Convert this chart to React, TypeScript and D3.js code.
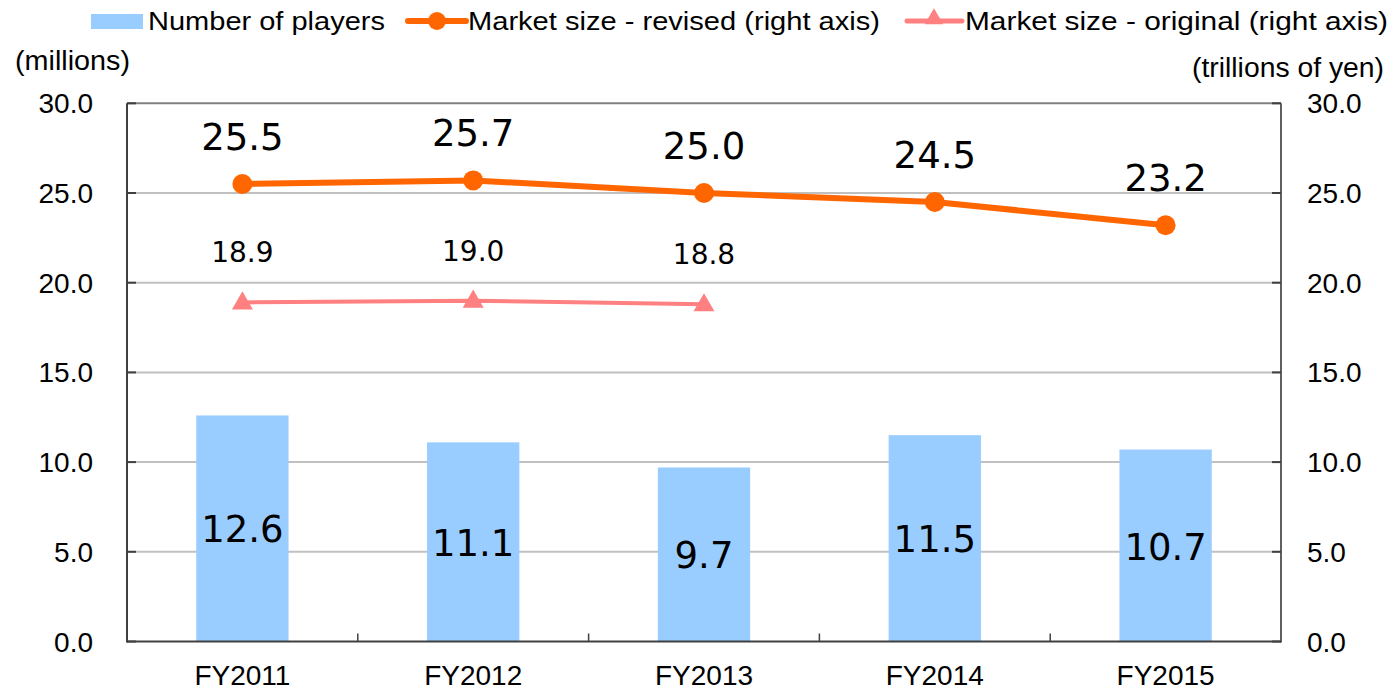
import React, { useEffect, useRef } from "react";
import * as d3 from "d3";

const categories = ["FY2011", "FY2012", "FY2013", "FY2014", "FY2015"];
const players = [12.6, 11.1, 9.7, 11.5, 10.7];
const revised = [25.5, 25.7, 25.0, 24.5, 23.2];
const original = [18.9, 19.0, 18.8];
const yTicks = [0, 5, 10, 15, 20, 25, 30];
const legendLabels = ["Number of players", "Market size - revised (right axis)", "Market size - original (right axis)"];

const W = 1394, H = 690;
const L = 127, R = 1281, T = 103.3, B = 641.5;

export default function App() {
  const ref = useRef<SVGSVGElement>(null);
  useEffect(() => {
    const svg = d3.select(ref.current);
    svg.selectAll("*").remove();
    const x = d3.scaleBand().domain(categories).range([L, R]).paddingInner(0.6).paddingOuter(0.3);
    const band = d3.scaleBand().domain(categories).range([L, R]);
    const yL = d3.scaleLinear().domain([0, 30]).range([B, T]);
    const yR = d3.scaleLinear().domain([0, 30]).range([B, T]);
    const cx = (c: string) => (band(c) as number) + band.bandwidth() / 2;
    const ARIAL = "'Liberation Sans', Arial, sans-serif";
    const VERD = "'DejaVu Sans', Verdana, sans-serif";

    // gridlines
    svg.append("g").selectAll("line").data(yTicks.filter(t => t > 0 && t < 30)).join("line")
      .attr("x1", L).attr("x2", R).attr("y1", d => yL(d)).attr("y2", d => yL(d))
      .attr("stroke", "#c0c0c0").attr("stroke-width", 2);
    // top border
    svg.append("line").attr("x1", L).attr("x2", R).attr("y1", yL(30)).attr("y2", yL(30))
      .attr("stroke", "#808080").attr("stroke-width", 2);

    // bars
    svg.append("g").selectAll("rect").data(players).join("rect")
      .attr("x", (d, i) => x(categories[i]) as number)
      .attr("width", x.bandwidth())
      .attr("y", d => yL(d)).attr("height", d => B - yL(d))
      .attr("fill", "#99CCFF");

    // axes lines
    svg.append("line").attr("x1", L).attr("x2", L).attr("y1", T).attr("y2", B + 1).attr("stroke", "#404040").attr("stroke-width", 2);
    svg.append("line").attr("x1", R).attr("x2", R).attr("y1", T).attr("y2", B + 1).attr("stroke", "#606060").attr("stroke-width", 2);
    svg.append("line").attr("x1", L).attr("x2", R).attr("y1", B).attr("y2", B).attr("stroke", "#404040").attr("stroke-width", 2);

    // y ticks
    svg.append("g").selectAll("line").data(yTicks).join("line")
      .attr("x1", L).attr("x2", L + 9).attr("y1", d => yL(d)).attr("y2", d => yL(d))
      .attr("stroke", "#404040").attr("stroke-width", 2);
    svg.append("g").selectAll("line").data(yTicks).join("line")
      .attr("x1", R - 9).attr("x2", R).attr("y1", d => yR(d)).attr("y2", d => yR(d))
      .attr("stroke", "#404040").attr("stroke-width", 2);
    // category ticks
    const bounds = categories.slice(1).map(c => band(c) as number);
    svg.append("g").selectAll("line").data(bounds).join("line")
      .attr("x1", d => d).attr("x2", d => d).attr("y1", B - 8).attr("y2", B)
      .attr("stroke", "#404040").attr("stroke-width", 1.5);

    // tick labels
    svg.append("g").selectAll("text").data(yTicks).join("text")
      .attr("x", 93).attr("y", d => yL(d) + 10).attr("text-anchor", "end")
      .attr("font-family", ARIAL).attr("font-size", 28).attr("fill", "#000")
      .text(d => d.toFixed(1));
    svg.append("g").selectAll("text").data(yTicks).join("text")
      .attr("x", 1307).attr("y", d => yR(d) + 10).attr("text-anchor", "start")
      .attr("font-family", ARIAL).attr("font-size", 28).attr("fill", "#000")
      .text(d => d.toFixed(1));
    svg.append("g").selectAll("text").data(categories).join("text")
      .attr("x", d => cx(d)).attr("y", 685).attr("text-anchor", "middle")
      .attr("font-family", ARIAL).attr("font-size", 28).attr("fill", "#000")
      .text(d => d);

    // units
    svg.append("text").attr("x", 15).attr("y", 70).attr("font-family", ARIAL).attr("font-size", 27)
      .attr("textLength", 115).attr("lengthAdjust", "spacingAndGlyphs").text("(millions)");
    svg.append("text").attr("x", 1192).attr("y", 77).attr("font-family", ARIAL).attr("font-size", 27)
      .attr("textLength", 192).attr("lengthAdjust", "spacingAndGlyphs").text("(trillions of yen)");

    // bar labels
    svg.append("g").selectAll("text").data(players).join("text")
      .attr("x", (d, i) => cx(categories[i]))
      .attr("y", d => (yL(d) + B) / 2 + 14)
      .attr("text-anchor", "middle").attr("font-family", VERD).attr("font-size", 37).attr("fill", "#000")
      .text(d => d.toFixed(1));

    // original line
    const lineO = d3.line<number>().x((d, i) => cx(categories[i])).y(d => yR(d));
    svg.append("path").datum(original).attr("d", lineO).attr("fill", "none")
      .attr("stroke", "#FF8080").attr("stroke-width", 4);
    const tri = d3.symbol().type(d3.symbolTriangle).size(190);
    svg.append("g").selectAll("path").data(original).join("path")
      .attr("d", tri as any)
      .attr("transform", (d, i) => `translate(${cx(categories[i])},${yR(d) + 1})`)
      .attr("fill", "#FF8080");
    svg.append("g").selectAll("text").data(original).join("text")
      .attr("x", (d, i) => cx(categories[i]))
      .attr("y", d => yR(d) - 40)
      .attr("text-anchor", "middle").attr("font-family", VERD).attr("font-size", 28).attr("fill", "#000")
      .text(d => d.toFixed(1));

    // revised line
    const lineR = d3.line<number>().x((d, i) => cx(categories[i])).y(d => yR(d));
    svg.append("path").datum(revised).attr("d", lineR).attr("fill", "none")
      .attr("stroke", "#FF6600").attr("stroke-width", 6);
    svg.append("g").selectAll("circle").data(revised).join("circle")
      .attr("cx", (d, i) => cx(categories[i])).attr("cy", d => yR(d)).attr("r", 10)
      .attr("fill", "#FF6600");
    svg.append("g").selectAll("text").data(revised).join("text")
      .attr("x", (d, i) => cx(categories[i]))
      .attr("y", d => yR(d) - 34)
      .attr("text-anchor", "middle").attr("font-family", VERD).attr("font-size", 37).attr("fill", "#000")
      .text(d => d.toFixed(1));

    // legend
    const lg = svg.append("g");
    lg.append("rect").attr("x", 91).attr("y", 14).attr("width", 52).attr("height", 15).attr("fill", "#99CCFF");
    lg.append("text").attr("x", 148).attr("y", 30).attr("font-family", ARIAL).attr("font-size", 25)
      .attr("textLength", 237).attr("lengthAdjust", "spacingAndGlyphs").text(legendLabels[0]);
    lg.append("line").attr("x1", 408).attr("x2", 466).attr("y1", 21).attr("y2", 21)
      .attr("stroke", "#FF6600").attr("stroke-width", 6).attr("stroke-linecap", "round");
    lg.append("circle").attr("cx", 437).attr("cy", 21).attr("r", 9).attr("fill", "#FF6600");
    lg.append("text").attr("x", 468).attr("y", 30).attr("font-family", ARIAL).attr("font-size", 25)
      .attr("textLength", 412).attr("lengthAdjust", "spacingAndGlyphs").text(legendLabels[1]);
    lg.append("line").attr("x1", 907).attr("x2", 962).attr("y1", 21).attr("y2", 21)
      .attr("stroke", "#FF8080").attr("stroke-width", 5).attr("stroke-linecap", "round");
    lg.append("path").attr("d", d3.symbol().type(d3.symbolTriangle).size(150)() as string)
      .attr("transform", "translate(934,19)").attr("fill", "#FF8080");
    lg.append("text").attr("x", 965).attr("y", 30).attr("font-family", ARIAL).attr("font-size", 25)
      .attr("textLength", 423).attr("lengthAdjust", "spacingAndGlyphs").text(legendLabels[2]);
  }, []);
  return (
    <svg ref={ref} width={W} height={H} style={{ position: "absolute", left: 0, top: 0, background: "#fff" }} />
  );
}
